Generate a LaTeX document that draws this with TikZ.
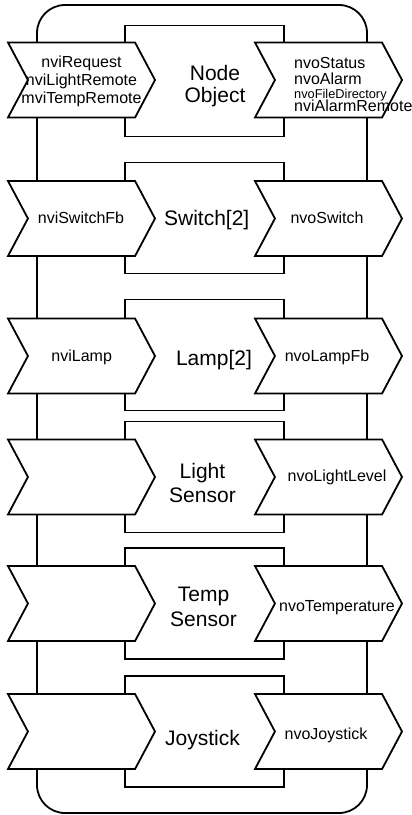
\documentclass[tikz,border=0pt]{standalone}
\usepackage{fontspec}
\setmainfont{Liberation Sans}
\usetikzlibrary{shapes.symbols,positioning}

\begin{document}
\begin{tikzpicture}[x=1pt,y=-1pt,
    device/.style={rectangle,draw,line width=1.8pt,rounded corners=28pt,minimum width=330pt,minimum height=808pt,inner sep=0pt},
    fblock/.style={rectangle,draw,fill=white,line width=1.8pt,minimum width=159pt,minimum height=111pt,inner sep=0pt},
    nvbox/.style={signal,signal from=west,signal to=east,signal pointer angle=124,draw,fill=white,line width=1.8pt,minimum width=147pt,minimum height=75pt,inner sep=0pt},
    btxt/.style={align=center,font=\fontsize{21}{24}\selectfont,inner sep=0pt},
    nvtxt/.style={font=\fontsize{16}{18}\selectfont,inner sep=0pt}]
\useasboundingbox (0,0) rectangle (412,815);
% device outline
\node[device] (dev) at (202,409) {};
% functional blocks
\node[fblock] (b1) at (204.5,81) {};
\node[fblock] (b2) at (204.5,218) {};
\node[fblock] (b3) at (204.5,355) {};
\node[fblock] (b4) at (204.5,477) {};
\node[fblock] (b5) at (204.5,603.5) {};
\node[fblock] (b6) at (204.5,731.5) {};
% network variable chevrons (inputs left, outputs right)
\foreach \i/\y in {1/80,2/218.5,3/356,4/477,5/603.5,6/731.5} {
  \node[nvbox] (in\i) at (81.5,\y) {};
  \node[nvbox] (out\i) at (328.5,\y) {};
}
% block names
\node[btxt,anchor=north] (n1) at (215,65) {Node\\[-2pt]Object};
\node[btxt,anchor=base] (n2) at (206.7,225) {Switch[2]};
\node[btxt,anchor=base] (n3) at (214,365) {Lamp[2]};
\node[btxt,anchor=north] (n4) at (202.5,463) {Light\\Sensor};
\node[btxt,anchor=north] (n5) at (203.5,586.7) {Temp\\[1pt]Sensor};
\node[btxt,anchor=base] (n6) at (202.5,745) {Joystick};
% network variable names
\node[nvtxt,align=center,anchor=north] (v1) at (81.5,55.5) {nviRequest\\nviLightRemote\\mviTempRemote};
\node[nvtxt,align=left,anchor=north west,font=\fontsize{16}{16}\selectfont] (w1) at (294,57.5)
  {nvoStatus\\nvoAlarm\\[-2pt]{\fontsize{12.8}{13}\selectfont nvoFileDirectory}\\[-3pt]nviAlarmRemote};
\node[nvtxt,anchor=base] (v2) at (81,223.3) {nviSwitchFb};
\node[nvtxt,anchor=base] (w2) at (327,223.3) {nvoSwitch};
\node[nvtxt,anchor=base] (v3) at (81.7,361) {nviLamp};
\node[nvtxt,anchor=base] (w3) at (327,361) {nvoLampFb};
\node[nvtxt,anchor=base] (w4) at (337,481.7) {nvoLightLevel};
\node[nvtxt,anchor=base] (w5) at (337,611) {nvoTemperature};
\node[nvtxt,anchor=base] (w6) at (326,739) {nvoJoystick};
\end{tikzpicture}
\end{document}
